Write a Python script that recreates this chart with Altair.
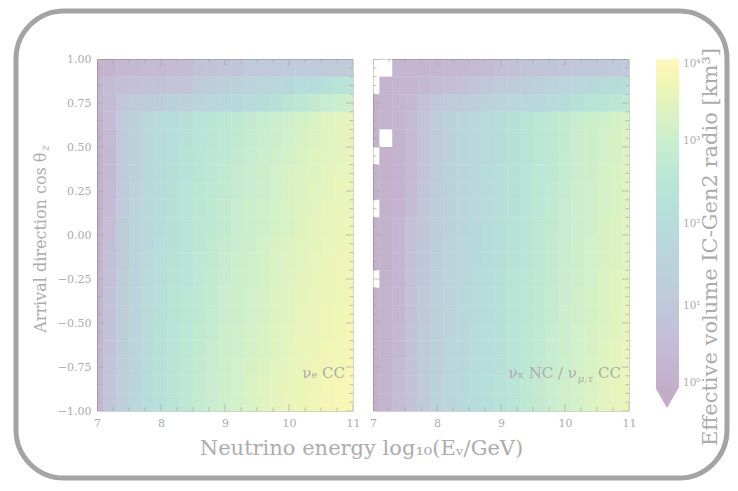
import altair as alt
import pandas as pd

GREY = '#acacac'
TICK_GREY = '#a8a8a8'
FONT = 'DejaVu Serif'

# bin centres of log10(E/GeV) and cos(theta_z)
energy = [7.0, 7.2, 7.4, 7.6, 7.8, 8.0, 8.2, 8.4, 8.6, 8.8, 9.0,
          9.2, 9.4, 9.6, 9.8, 10.0, 10.2, 10.4, 10.6, 10.8, 11.0]
cos_rows = [0.95, 0.85, 0.75, 0.65, 0.55, 0.45, 0.35, 0.25, 0.15, 0.05,
            -0.05, -0.15, -0.25, -0.35, -0.45, -0.55, -0.65, -0.75, -0.85, -0.95]

# log10(effective volume / km^3), nu_e CC  (rows top -> bottom)
ve_cc = [
    [0.2, 0.2, 0.4, 0.4, 0.45, 0.45, 0.5, 0.5, 0.8, 0.8, 0.85, 0.85, 1.1, 1.1, 1.1, 1.15, 1.15, 1.15, 1.2, 1.2, 1.2],
    [0.3, 0.55, 0.65, 0.7, 0.75, 0.8, 0.85, 0.9, 1.2, 1.3, 1.4, 1.5, 1.6, 1.7, 1.8, 1.9, 2.0, 2.1, 2.3, 2.4, 2.5],
    [0.3, 0.5, 1.0, 1.1, 1.2, 1.3, 1.4, 1.5, 1.6, 1.7, 1.8, 1.9, 2.0, 2.1, 2.3, 2.5, 2.6, 2.8, 2.9, 3.0, 3.1],
    [0.2, 0.55, 1.15, 1.5, 1.8, 2.0, 2.1, 2.25, 2.4, 2.5, 2.6, 2.7, 2.8, 2.9, 3.0, 3.1, 3.2, 3.3, 3.4, 3.5, 3.55],
    [0.1, 0.45, 1.1, 1.5, 1.8, 2.0, 2.15, 2.3, 2.45, 2.55, 2.65, 2.75, 2.85, 2.95, 3.05, 3.15, 3.25, 3.35, 3.45, 3.5, 3.55],
    [0.1, 0.4, 1.1, 1.5, 1.8, 2.0, 2.2, 2.35, 2.5, 2.6, 2.7, 2.8, 2.9, 3.0, 3.1, 3.2, 3.3, 3.4, 3.45, 3.5, 3.6],
    [0.1, 0.4, 1.1, 1.5, 1.85, 2.05, 2.2, 2.35, 2.5, 2.6, 2.75, 2.85, 2.95, 3.05, 3.15, 3.25, 3.35, 3.4, 3.5, 3.55, 3.6],
    [0.1, 0.45, 1.15, 1.55, 1.85, 2.05, 2.25, 2.4, 2.55, 2.65, 2.75, 2.85, 2.95, 3.05, 3.15, 3.25, 3.35, 3.45, 3.5, 3.6, 3.65],
    [0.15, 0.55, 1.15, 1.55, 1.9, 2.1, 2.25, 2.4, 2.55, 2.7, 2.8, 2.9, 3.0, 3.1, 3.2, 3.3, 3.4, 3.45, 3.55, 3.6, 3.65],
    [0.15, 0.6, 1.2, 1.55, 1.9, 2.1, 2.3, 2.45, 2.6, 2.7, 2.8, 2.9, 3.0, 3.1, 3.2, 3.3, 3.4, 3.5, 3.55, 3.6, 3.7],
    [0.2, 0.65, 1.2, 1.6, 1.9, 2.15, 2.3, 2.45, 2.6, 2.75, 2.85, 2.95, 3.05, 3.15, 3.25, 3.35, 3.45, 3.5, 3.6, 3.65, 3.7],
    [0.2, 0.7, 1.2, 1.6, 1.95, 2.15, 2.35, 2.5, 2.65, 2.75, 2.9, 3.0, 3.1, 3.2, 3.3, 3.4, 3.45, 3.55, 3.6, 3.7, 3.75],
    [0.2, 0.7, 1.25, 1.6, 1.95, 2.2, 2.35, 2.5, 2.65, 2.8, 2.9, 3.0, 3.1, 3.2, 3.3, 3.4, 3.5, 3.55, 3.65, 3.7, 3.75],
    [0.25, 0.75, 1.25, 1.65, 1.95, 2.2, 2.4, 2.55, 2.7, 2.8, 2.95, 3.05, 3.15, 3.25, 3.35, 3.45, 3.5, 3.6, 3.65, 3.7, 3.8],
    [0.25, 0.75, 1.25, 1.65, 2.0, 2.2, 2.4, 2.55, 2.7, 2.85, 2.95, 3.05, 3.15, 3.25, 3.35, 3.45, 3.55, 3.6, 3.7, 3.75, 3.8],
    [0.25, 0.8, 1.3, 1.65, 2.0, 2.25, 2.45, 2.6, 2.75, 2.85, 3.0, 3.1, 3.2, 3.3, 3.4, 3.5, 3.55, 3.65, 3.7, 3.75, 3.85],
    [0.3, 0.8, 1.3, 1.7, 2.0, 2.25, 2.45, 2.6, 2.75, 2.9, 3.0, 3.1, 3.2, 3.3, 3.4, 3.5, 3.6, 3.65, 3.75, 3.8, 3.85],
    [0.3, 0.85, 1.3, 1.7, 2.05, 2.3, 2.5, 2.65, 2.8, 2.9, 3.05, 3.15, 3.25, 3.35, 3.45, 3.55, 3.6, 3.7, 3.75, 3.8, 3.9],
    [0.3, 0.85, 1.35, 1.7, 2.05, 2.3, 2.5, 2.65, 2.8, 2.95, 3.05, 3.15, 3.3, 3.4, 3.5, 3.55, 3.65, 3.7, 3.8, 3.85, 3.9],
    [0.3, 0.9, 1.35, 1.75, 2.1, 2.3, 2.5, 2.7, 2.85, 2.95, 3.1, 3.2, 3.3, 3.4, 3.5, 3.6, 3.65, 3.75, 3.8, 3.85, 3.9],
]

# log10(effective volume / km^3), nu_x NC / nu_mu,tau CC  (None = empty cell)
nc_cc = [
    [None, None, 0.3, 0.3, 0.3, 0.3, 0.35, 0.4, 0.45, 0.55, 0.6, 0.7, 0.8, 0.85, 0.9, 0.95, 1.0, 1.0, 1.05, 1.1, 1.1],
    [None, 0.2, 0.3, 0.3, 0.4, 0.5, 0.6, 0.7, 0.85, 1.0, 1.1, 1.2, 1.3, 1.45, 1.55, 1.65, 1.75, 1.85, 1.95, 2.05, 2.2],
    [0.1, 0.2, 0.3, 0.4, 0.8, 1.0, 1.1, 1.25, 1.35, 1.5, 1.6, 1.7, 1.8, 1.9, 2.0, 2.1, 2.25, 2.4, 2.5, 2.6, 2.7],
    [0.1, 0.2, 0.3, 0.45, 0.85, 1.2, 1.5, 1.65, 1.8, 1.95, 2.1, 2.25, 2.4, 2.55, 2.7, 2.8, 2.9, 3.0, 3.1, 3.2, 3.3],
    [0.1, None, 0.2, 0.45, 0.85, 1.2, 1.45, 1.65, 1.8, 1.95, 2.1, 2.25, 2.4, 2.55, 2.7, 2.8, 2.95, 3.05, 3.15, 3.25, 3.35],
    [None, 0.1, 0.2, 0.45, 0.85, 1.2, 1.45, 1.65, 1.8, 1.95, 2.1, 2.25, 2.4, 2.55, 2.7, 2.85, 2.95, 3.05, 3.15, 3.25, 3.35],
    [0.1, 0.1, 0.2, 0.45, 0.85, 1.2, 1.5, 1.7, 1.85, 2.0, 2.15, 2.3, 2.45, 2.6, 2.7, 2.85, 2.95, 3.05, 3.2, 3.3, 3.4],
    [0.1, 0.1, 0.2, 0.45, 0.9, 1.25, 1.5, 1.7, 1.85, 2.0, 2.15, 2.3, 2.45, 2.6, 2.75, 2.85, 3.0, 3.1, 3.2, 3.3, 3.4],
    [None, 0.1, 0.2, 0.5, 0.95, 1.25, 1.5, 1.7, 1.85, 2.0, 2.15, 2.3, 2.45, 2.6, 2.75, 2.9, 3.0, 3.1, 3.2, 3.3, 3.4],
    [0.1, 0.15, 0.3, 0.7, 0.95, 1.25, 1.5, 1.7, 1.9, 2.05, 2.2, 2.35, 2.5, 2.65, 2.75, 2.9, 3.0, 3.1, 3.25, 3.35, 3.45],
    [0.1, 0.15, 0.3, 0.7, 1.0, 1.3, 1.55, 1.75, 1.9, 2.05, 2.2, 2.35, 2.5, 2.65, 2.8, 2.9, 3.05, 3.15, 3.25, 3.35, 3.45],
    [0.1, 0.15, 0.3, 0.7, 1.0, 1.3, 1.55, 1.75, 1.9, 2.05, 2.2, 2.35, 2.5, 2.65, 2.8, 2.95, 3.05, 3.15, 3.25, 3.35, 3.45],
    [None, 0.15, 0.3, 0.7, 1.0, 1.3, 1.55, 1.75, 1.95, 2.1, 2.25, 2.4, 2.55, 2.7, 2.8, 2.95, 3.05, 3.15, 3.3, 3.4, 3.5],
    [0.1, 0.2, 0.3, 0.7, 1.05, 1.35, 1.6, 1.8, 1.95, 2.1, 2.25, 2.4, 2.55, 2.7, 2.85, 2.95, 3.1, 3.2, 3.3, 3.4, 3.5],
    [0.1, 0.2, 0.3, 0.7, 1.05, 1.35, 1.6, 1.8, 1.95, 2.1, 2.25, 2.4, 2.55, 2.7, 2.85, 3.0, 3.1, 3.2, 3.3, 3.45, 3.55],
    [0.1, 0.2, 0.35, 0.75, 1.1, 1.4, 1.6, 1.8, 2.0, 2.15, 2.3, 2.45, 2.6, 2.75, 2.9, 3.0, 3.15, 3.25, 3.35, 3.45, 3.55],
    [0.1, 0.2, 0.35, 0.75, 1.1, 1.4, 1.65, 1.85, 2.0, 2.15, 2.3, 2.45, 2.6, 2.75, 2.9, 3.05, 3.15, 3.25, 3.4, 3.5, 3.6],
    [0.1, 0.2, 0.45, 0.8, 1.1, 1.4, 1.65, 1.85, 2.0, 2.15, 2.3, 2.45, 2.6, 2.75, 2.9, 3.05, 3.2, 3.3, 3.4, 3.5, 3.6],
    [0.1, 0.2, 0.45, 0.8, 1.15, 1.45, 1.65, 1.85, 2.05, 2.2, 2.35, 2.5, 2.65, 2.8, 2.95, 3.1, 3.2, 3.3, 3.45, 3.55, 3.65],
    [0.1, 0.25, 0.5, 0.8, 1.15, 1.45, 1.7, 1.9, 2.05, 2.2, 2.35, 2.5, 2.65, 2.8, 2.95, 3.1, 3.2, 3.35, 3.45, 3.55, 3.65],
]

x_major = [7, 8, 9, 10, 11]
x_minor = [7.25, 7.5, 7.75, 8.25, 8.5, 8.75, 9.25, 9.5, 9.75, 10.25, 10.5, 10.75]
y_major = [-1.0, -0.75, -0.5, -0.25, 0.0, 0.25, 0.5, 0.75, 1.0]
y_minor = [round(-1 + 0.05 * i, 2) for i in range(41) if i % 5 != 0]
cbar_values = [0, 1, 2, 3, 4]
cbar_labels = ['10⁰', '10¹', '10²', '10³', '10⁴']

W, H = 256, 352
OPAC = 0.32


def cells(grid):
    out = []
    for r, cy in enumerate(cos_rows):
        for c, ex in enumerate(energy):
            v = grid[r][c]
            if v is None:
                continue
            out.append({'x0': max(ex - 0.1, 7.0), 'x1': min(ex + 0.1, 11.0),
                        'y0': cy - 0.05, 'y1': cy + 0.05, 'v': v})
    return pd.DataFrame(out)


sx = alt.Scale(domain=[7, 11], nice=False, zero=False)
sy = alt.Scale(domain=[-1, 1], nice=False, zero=False)

x_axis = alt.Axis(values=x_major, format='d', title=None, ticks=False, domain=False, grid=False,
                  labelFont=FONT, labelFontSize=11, labelColor=GREY, labelPadding=6, labelFlush=False)


def y_axis(show):
    return alt.Axis(values=y_major, format='.2f', title=None, ticks=False, domain=False, grid=False,
                    labels=show, labelFont=FONT, labelFontSize=11, labelColor=GREY, labelPadding=6,
                    labelFlush=False)


label_map = '{' + ','.join(f"'{v}':'{t}'" for v, t in zip(cbar_values, cbar_labels)) + '}'
legend = alt.Legend(
    orient='none', legendX=559, legendY=0, title=None, direction='vertical',
    gradientLength=329, gradientThickness=23, gradientOpacity=OPAC,
    gradientStrokeWidth=0, values=cbar_values,
    labelExpr=label_map + '[datum.value]', labelBaseline='middle',
    labelFont=FONT, labelFontSize=10.5, labelColor=GREY, labelOffset=4,
)


def tick_layers(show_y):
    layers = []
    for vals, size in ((x_major, 14), (x_minor, 7)):
        d = pd.DataFrame({'t': vals})
        for yv in (0, H):
            layers.append(alt.Chart(d).mark_tick(clip=True, color=TICK_GREY, thickness=1, size=size).encode(
                x=alt.X('t:Q', scale=sx, axis=x_axis), y=alt.value(yv)))
    for vals, size in ((y_major, 14), (y_minor, 7)):
        d = pd.DataFrame({'t': vals})
        for xv in (0, W):
            layers.append(alt.Chart(d).mark_tick(clip=True, color=TICK_GREY, thickness=1, size=size).encode(
                y=alt.Y('t:Q', scale=sy, axis=y_axis(show_y)), x=alt.value(xv)))
    return layers


def heat(grid, show_y):
    return alt.Chart(cells(grid)).mark_rect(opacity=OPAC, clip=True).encode(
        x=alt.X('x0:Q', scale=sx, axis=x_axis),
        x2='x1:Q',
        y=alt.Y('y0:Q', scale=sy, axis=y_axis(show_y)),
        y2='y1:Q',
        color=alt.Color('v:Q', scale=alt.Scale(scheme='viridis', domain=[0, 4]), legend=legend),
    )


def text(label, x, y, size, align='center', angle=0, style='normal', baseline='alphabetic'):
    return alt.Chart(pd.DataFrame({'label': [label]})).mark_text(
        font=FONT, fontSize=size, color=GREY, align=align, angle=angle, fontStyle=style,
        baseline=baseline).encode(x=alt.value(x), y=alt.value(y), text='label:N')


frame = alt.Chart(pd.DataFrame({'k': [0]})).mark_rect(
    cornerRadius=48, fillOpacity=0, stroke='#a4a4a4', strokeWidth=5).encode(
    x=alt.value(-81), x2=alt.value(630), y=alt.value(-48), y2=alt.value(419))

left = alt.layer(
    heat(ve_cc, True), *tick_layers(True),
    text('νₑ CC', W - 8, 318.5, 15, align='right'),
    text('Arrival direction cos θ', -56, 93.5, 16, align='right', angle=270, baseline='middle'),
    text('z', -51, 92, 11, align='left', angle=270, style='italic', baseline='middle'),
    text('Neutrino energy log₁₀(Eᵥ/GeV)', 264.5, 389.5, 21, baseline='middle'),
    frame,
).properties(width=W, height=H)

right = alt.layer(
    heat(nc_cc, False), *tick_layers(False),
    text('CC', W - 8, 318.5, 15, align='right'),
    text('μ,τ', W - 36, 322.5, 10, align='right', style='italic'),
    text('νₓ NC / ν', W - 52, 318.5, 15, align='right'),
    text('Effective volume IC-Gen2 radio [km³]', 338, 188, 21, angle=270, baseline='middle'),
    alt.Chart(pd.DataFrame({'k': [0]})).mark_point(
        shape='triangle-down', filled=True, size=529, color='#440154', opacity=OPAC).encode(
        x=alt.value(294), y=alt.value(339)),
).properties(width=W, height=H)

chart = alt.hconcat(left, right, spacing=20).resolve_scale(color='shared').properties(
    bounds='flush', padding={'left': 5, 'top': 0, 'right': 0, 'bottom': 0}
).configure_view(stroke='#d2d2d2', strokeWidth=1)

chart.save('out.html', embed_options={'renderer': 'svg', 'actions': False})
